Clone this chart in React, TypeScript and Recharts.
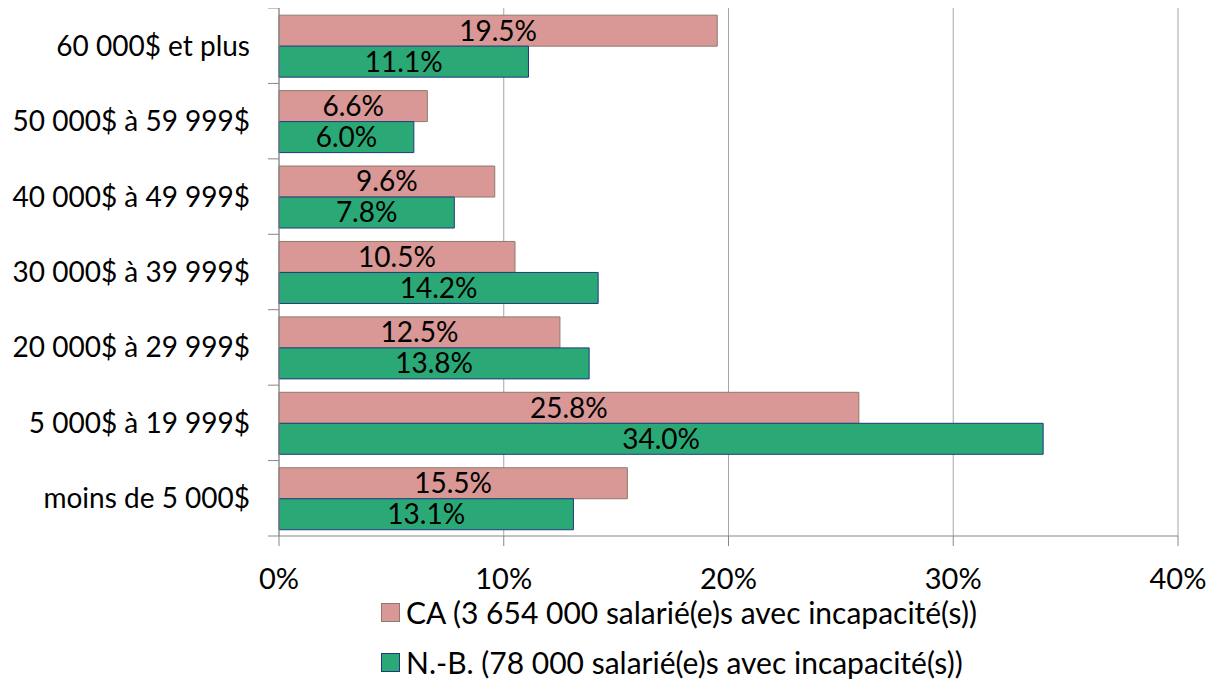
import React from "react";
import { BarChart, Bar, XAxis, YAxis, CartesianGrid, Legend, LabelList } from "recharts";

const categories = [
  "60 000$ et plus",
  "50 000$ à 59 999$",
  "40 000$ à 49 999$",
  "30 000$ à 39 999$",
  "20 000$ à 29 999$",
  "5 000$ à 19 999$",
  "moins de 5 000$",
];
const caValues = [19.5, 6.6, 9.6, 10.5, 12.5, 25.8, 15.5];
const nbValues = [11.1, 6.0, 7.8, 14.2, 13.8, 34.0, 13.1];
const xTicks = [0, 10, 20, 30, 40];
const seriesNames = [
  "CA (3 654 000 salarié(e)s avec incapacité(s))",
  "N.-B. (78 000 salarié(e)s avec incapacité(s))",
];

const data = categories.map((c, i) => ({ cat: c, ca: caValues[i], nb: nbValues[i] }));

const FONT = "Lato, 'DejaVu Sans', sans-serif";
const FS = 28;
const PINK = "#D99795";
const PINK_STROKE = "#8C7B6B";
const GREEN = "#2AA977";
const GREEN_STROKE = "#1F3A80";
const AXIS = "#868686";
const GRID = "#A6A6A6";

const YTick = (props: any) => {
  const { x, y, payload, index } = props;
  const half = payload && payload.offset ? payload.offset : 528 / 7 / 2;
  const ax = x + 29;
  const isLast = index === categories.length - 1;
  return (
    <g>
      <line x1={ax - 11} x2={ax} y1={y - half} y2={y - half} stroke={AXIS} strokeWidth={1} />
      {isLast && <line x1={ax - 11} x2={ax} y1={y + half} y2={y + half} stroke={AXIS} strokeWidth={1} />}
      <text x={x} y={y} dy="0.355em" textAnchor="end" fill="#000" fontSize={FS} fontFamily={FONT}>
        {payload.value}
      </text>
    </g>
  );
};

const LegendContent = () => {
  const items = [
    { name: seriesNames[0], fill: PINK, stroke: PINK_STROKE },
    { name: seriesNames[1], fill: GREEN, stroke: GREEN_STROKE },
  ];
  return (
    <div style={{ position: "relative", height: 94, fontFamily: FONT, fontSize: 30, color: "#000" }}>
      {items.map((it, i) => (
        <div
          key={i}
          style={{
            position: "absolute",
            left: 373,
            top: 7 + i * 50,
            height: 38,
            display: "flex",
            alignItems: "center",
            whiteSpace: "nowrap",
          }}
        >
          <span
            style={{
              display: "inline-block",
              width: 17,
              height: 17,
              background: it.fill,
              border: `1px solid ${it.stroke}`,
              marginRight: 6,
            }}
          />
          <span>{it.name}</span>
        </div>
      ))}
    </div>
  );
};

export default function App() {
  return (
    <div style={{ width: 1203, height: 672, background: "#fff" }}>
      <BarChart
        width={1203}
        height={672}
        data={data}
        layout="vertical"
        margin={{ top: 0, right: 33, bottom: 0, left: 0 }}
        barCategoryGap="9.5%"
        barGap={0}
      >
        <CartesianGrid horizontal={false} vertical={true} stroke={GRID} />
        <XAxis
          type="number"
          domain={[0, 40]}
          ticks={xTicks}
          tickFormatter={(v: number) => `${v}%`}
          height={50}
          stroke={AXIS}
          tickSize={10}
          tickMargin={22}
          tick={{ fill: "#000", fontSize: 29, fontFamily: FONT }}
          interval={0}
        />
        <YAxis
          type="category"
          dataKey="cat"
          width={271}
          stroke={AXIS}
          tickLine={false}
          tickSize={0}
          tickMargin={29}
          tick={<YTick />}
          interval={0}
        />
        <Legend verticalAlign="bottom" height={94} content={<LegendContent />} />
        <Bar dataKey="ca" name={seriesNames[0]} fill={PINK} stroke={PINK_STROKE} strokeWidth={1} isAnimationActive={false}>
          <LabelList
            dataKey="ca"
            position="center"
            formatter={(v: any) => `${Number(v).toFixed(1)}%`}
            fill="#000"
            fontSize={FS}
            fontFamily={FONT}
          />
        </Bar>
        <Bar dataKey="nb" name={seriesNames[1]} fill={GREEN} stroke={GREEN_STROKE} strokeWidth={1} isAnimationActive={false}>
          <LabelList
            dataKey="nb"
            position="center"
            formatter={(v: any) => `${Number(v).toFixed(1)}%`}
            fill="#000"
            fontSize={FS}
            fontFamily={FONT}
          />
        </Bar>
      </BarChart>
    </div>
  );
}
